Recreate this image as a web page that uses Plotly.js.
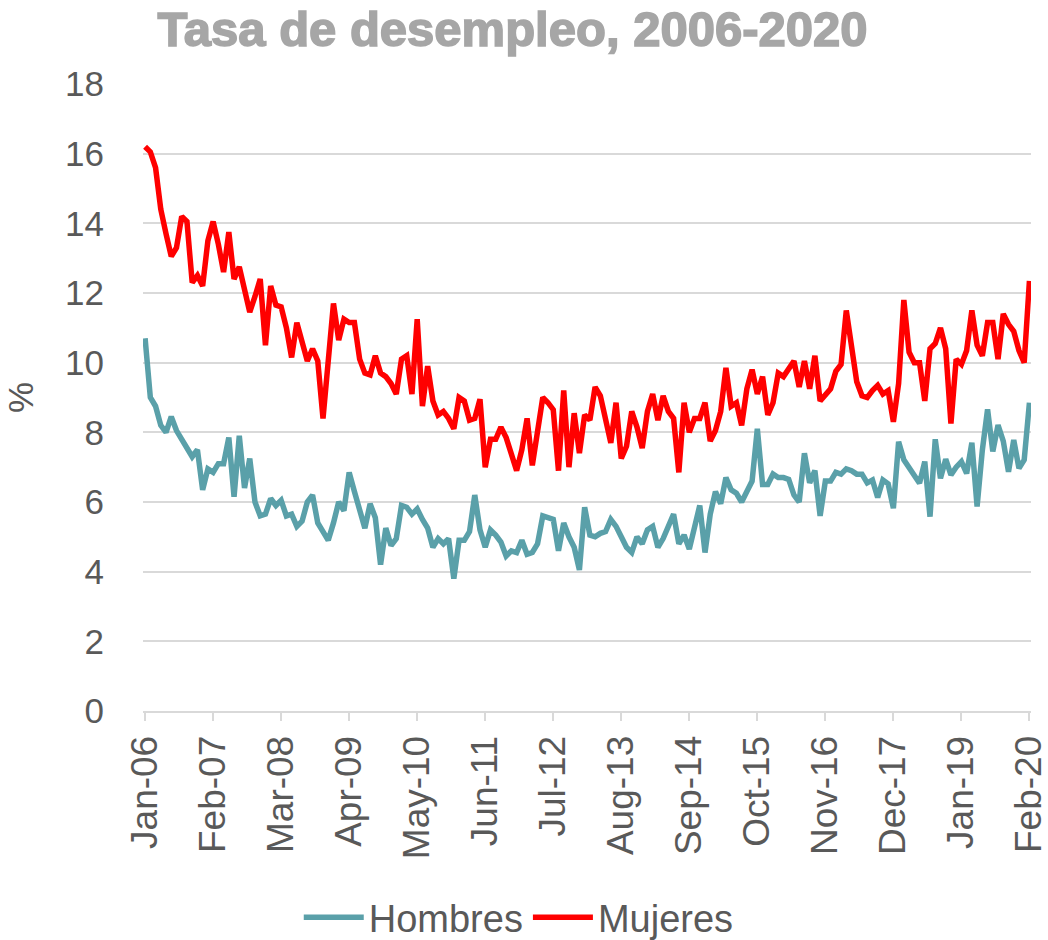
<!DOCTYPE html>
<html>
<head>
<meta charset="utf-8">
<script src="https://cdn.plot.ly/plotly-3.0.1.min.js"></script>
<style>
html,body{margin:0;padding:0;background:#fff;}
#chart{width:1048px;height:940px;}
#chart .gtitle{stroke:#A6A6A6;stroke-width:1.6px;}
</style>
</head>
<body>
<div id="chart"></div>
<script>
// Monthly categories Jan-06 .. Feb-20
const monthNames = ['Jan','Feb','Mar','Apr','May','Jun','Jul','Aug','Sep','Oct','Nov','Dec'];
const categories = [];
for (let y = 2006; y <= 2020; y++) {
  for (let m = 0; m < 12; m++) {
    if (y === 2020 && m > 1) break;
    categories.push(monthNames[m] + '-' + String(y).slice(2));
  }
}

const tickLabels = ['Jan-06','Feb-07','Mar-08','Apr-09','May-10','Jun-11','Jul-12','Aug-13','Sep-14','Oct-15','Nov-16','Dec-17','Jan-19','Feb-20'];

const hombres = [
  10.7, 9.0, 8.75, 8.2, 8.0, 8.45, 8.05, 7.8, 7.6, 7.3,
  7.5, 6.35, 6.95, 6.85, 7.1, 7.1, 7.85, 6.15, 7.9, 6.4,
  7.25, 6.0, 5.6, 5.65, 6.1, 5.9, 6.05, 5.6, 5.65, 5.3,
  5.45, 6.0, 6.2, 5.4, 5.15, 4.9, 5.4, 6.0, 5.75, 6.85,
  6.3, 5.8, 5.25, 5.95, 5.55, 4.2, 5.25, 4.75, 4.95, 5.9,
  5.85, 5.65, 5.8, 5.5, 5.25, 4.7, 4.95, 4.8, 4.95, 3.8,
  4.9, 4.9, 5.15, 6.2, 5.2, 4.7, 5.2, 5.05, 4.85, 4.45,
  4.6, 4.55, 4.9, 4.5, 4.55, 4.8, 5.6, 5.55, 5.5, 4.6,
  5.4, 5.0, 4.7, 4.05, 5.85, 5.05, 5.0, 5.1, 5.15, 5.5,
  5.3, 5.0, 4.7, 4.55, 5.0, 4.8, 5.2, 5.3, 4.7, 4.95,
  5.3, 5.65, 4.8, 5.05, 4.65, 5.3, 5.9, 4.55, 5.65, 6.3,
  5.95, 6.7, 6.35, 6.25, 6.0, 6.3, 6.6, 8.1, 6.5, 6.5,
  6.8, 6.7, 6.7, 6.65, 6.2, 6.0, 7.4, 6.55, 6.9, 5.6,
  6.6, 6.6, 6.85, 6.8, 6.95, 6.9, 6.8, 6.8, 6.55, 6.63,
  6.13, 6.63, 6.52, 5.82, 7.73, 7.21, 6.97, 6.73, 6.54, 7.16,
  5.58, 7.8, 6.68, 7.23, 6.78, 7.0, 7.16, 6.82, 7.7, 5.87,
  7.49, 8.66, 7.45, 8.21, 7.75, 6.87, 7.78, 6.97, 7.21, 8.85
];

const mujeres = [
  16.2, 16.05, 15.6, 14.4, 13.7, 13.05, 13.3, 14.2, 14.05, 12.3,
  12.5, 12.2, 13.5, 14.05, 13.4, 12.6, 13.75, 12.4, 12.75, 12.1,
  11.45, 11.9, 12.4, 10.5, 12.2, 11.65, 11.6, 11.0, 10.15, 11.15,
  10.6, 10.05, 10.4, 10.05, 8.4, 10.0, 11.7, 10.65, 11.25, 11.15,
  11.15, 10.1, 9.7, 9.65, 10.2, 9.7, 9.6, 9.4, 9.1, 10.1,
  10.2, 9.1, 11.25, 8.75, 9.9, 8.9, 8.5, 8.6, 8.4, 8.1,
  9.0, 8.9, 8.35, 8.4, 8.95, 7.0, 7.8, 7.8, 8.15, 7.85,
  7.35, 6.9, 7.5, 8.4, 7.05, 8.1, 9.0, 8.85, 8.65, 6.9,
  9.2, 7.0, 8.55, 7.4, 8.5, 8.35, 9.3, 9.05, 8.4, 7.7,
  8.85, 7.25, 7.6, 8.6, 8.15, 7.55, 8.6, 9.1, 8.35, 9.05,
  8.6, 8.4, 6.85, 8.85, 8.0, 8.4, 8.4, 8.85, 7.75, 8.05,
  8.6, 9.85, 8.75, 8.85, 8.2, 9.25, 9.8, 9.1, 9.6, 8.5,
  8.85, 9.7, 9.6, 9.85, 10.05, 9.3, 10.05, 9.25, 10.2, 8.9,
  9.1, 9.25, 9.75, 9.95, 11.5, 10.5, 9.45, 9.05, 9.0, 9.2,
  9.35, 9.1, 9.2, 8.3, 9.4, 11.8, 10.3, 10.0, 10.0, 8.9,
  10.4, 10.55, 11.0, 10.4, 8.25, 10.1, 9.95, 10.35, 11.5, 10.5,
  10.2, 11.15, 11.15, 10.1, 11.4, 11.1, 10.9, 10.35, 10.0, 12.35
];

const yTicks = [0, 2, 4, 6, 8, 10, 12, 14, 16, 18];

const FONT = 'Liberation Sans, Arial, sans-serif';
const TXT = '#595959';

const traces = [
  {x: categories, y: hombres, name: 'Hombres', type: 'scatter', mode: 'lines',
   line: {color: '#5AA0A9', width: 5.5}},
  {x: categories, y: mujeres, name: 'Mujeres', type: 'scatter', mode: 'lines',
   line: {color: '#FF0000', width: 5.5}}
];

const layout = {
  width: 1048, height: 940,
  margin: {l: 143, r: 17, t: 84, b: 229},
  paper_bgcolor: '#ffffff', plot_bgcolor: '#ffffff',
  font: {family: FONT, color: TXT, size: 34},
  title: {text: 'Tasa de desempleo, 2006-2020', xref: 'container', yref: 'container',
          x: 0.489, xanchor: 'center', y: 0.969, yanchor: 'middle',
          font: {family: FONT, size: 49, color: '#A6A6A6', weight: 'bold'}},
  xaxis: {type: 'category', range: [-0.4, 169.3], tickmode: 'array',
          tickvals: tickLabels, ticktext: tickLabels, tickangle: -90,
          ticks: 'outside', ticklen: 8, tickwidth: 2, tickcolor: '#D9D9D9',
          showline: true, linecolor: '#D9D9D9', linewidth: 2,
          showgrid: false, zeroline: false,
          tickfont: {family: FONT, size: 37, color: TXT}},
  yaxis: {range: [0, 18], tickmode: 'array', tickvals: yTicks,
          showgrid: true, gridcolor: '#D9D9D9', gridwidth: 2,
          zeroline: false, showline: false, ticks: '',
          ticklabelstandoff: 38,
          tickfont: {family: FONT, size: 35, color: TXT},
          title: {text: '%', font: {family: FONT, size: 35, color: TXT}, standoff: 20}},
  showlegend: true,
  legend: {orientation: 'h', xref: 'container', yref: 'container',
           x: 0.495, xanchor: 'center', y: 0.024, yanchor: 'middle',
           font: {family: FONT, size: 38, color: TXT}, itemwidth: 60, traceorder: 'normal'}
};

Plotly.newPlot('chart', traces, layout, {displayModeBar: false, staticPlot: true});
</script>
</body>
</html>
